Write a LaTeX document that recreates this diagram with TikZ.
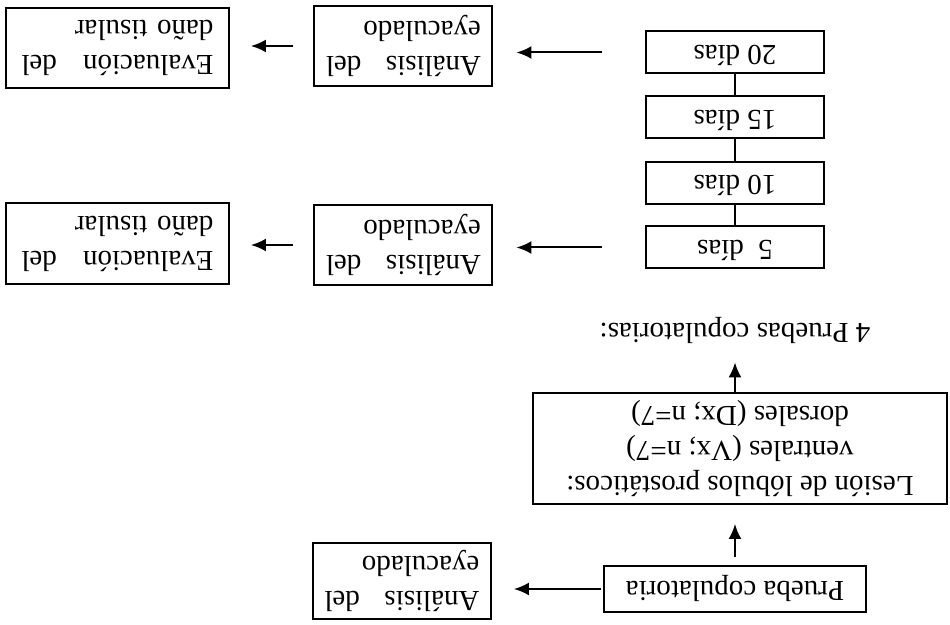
\documentclass[tikz,border=0pt]{standalone}
\usepackage{fontspec}
\setmainfont{Liberation Serif}
\usetikzlibrary{arrows.meta}
\tikzset{
  caja/.style={draw, line width=1pt, inner sep=0pt, align=center},
  una/.style={caja, text height=10pt, text depth=3pt},
  dos/.style={draw, line width=1pt, inner ysep=0pt, align=left},
  flecha/.style={-{Latex[length=7.5pt,width=6.5pt]}, line width=1pt},
}

\begin{document}
\begin{tikzpicture}[x=0.5pt, y=0.5pt, font=\fontsize{14.5}{17.5}\selectfont]
\begin{scope}[rotate=180, transform shape]
  \useasboundingbox (0,0) rectangle (950,625);
  % primera prueba
  \node[una, minimum width=131pt, minimum height=23pt] (Prueba) at (215,589) {Prueba copulatoria};
  \node[dos, text width=77.5pt, inner xsep=5.75pt, minimum height=38pt] (Anal1) at (548,581) {Análisis\hfill del\\eyaculado};
  \node[caja, minimum width=207pt, minimum height=55.5pt] (Lesion) at (210,448.5)
    {Lesión de lóbulos prostáticos:\\ventrales (Vx; n=7)\\dorsales (Dx; n=7)};
  \node[inner sep=0pt, text height=10pt, text depth=3pt, anchor=base] (Pruebas4) at (215,324) {4 Pruebas copulatorias:};
  % dias
  \node[una, minimum width=89pt, minimum height=21pt] (D5) at (215,247.5) {5\enspace días};
  \node[una, minimum width=89pt, minimum height=21pt] (D10) at (215,183) {10 días};
  \node[una, minimum width=89pt, minimum height=21pt] (D15) at (215,117.5) {15 días};
  \node[una, minimum width=89pt, minimum height=21pt] (D20) at (215,52.5) {20 días};
  % analisis y evaluacion
  \node[dos, text width=77.5pt, inner xsep=5.75pt, minimum height=40pt] (Anal5) at (546.5,245) {Análisis\hfill del\\eyaculado};
  \node[dos, text width=96pt, inner xsep=7.75pt, minimum height=40.5pt] (Eval5) at (832.5,243.5) {Evaluación\hfill del\\daño tisular};
  \node[dos, text width=77.5pt, inner xsep=5.75pt, minimum height=40pt] (Anal20) at (546.5,46) {Análisis\hfill del\\eyaculado};
  \node[dos, text width=96pt, inner xsep=7.75pt, minimum height=40pt] (Eval20) at (832.5,48) {Evaluación\hfill del\\daño tisular};

  \draw[flecha, shorten <=1pt, shorten >=11pt] (Prueba.east) -- (Prueba.east -| Anal1.west);
  \draw[flecha, shorten <=4pt, shorten >=9.5pt] (Prueba.south) -- (Prueba.south |- Lesion.north);
  \draw[flecha, shorten >=9pt] (Pruebas4.north |- Lesion.south) -- (Pruebas4.north);
  \draw[line width=0.8pt] (D5) -- (D10) (D10) -- (D15) (D15) -- (D20);
  \draw[flecha, shorten <=21.5pt, shorten >=11.5pt] (D5.east) -- (D5.east -| Anal5.west);
  \draw[flecha, shorten <=10pt, shorten >=10.5pt] (Anal5.east) -- (Anal5.east -| Eval5.west);
  \draw[flecha, shorten <=21.5pt, shorten >=11.5pt] (D20.east) -- (D20.east -| Anal20.west);
  \draw[flecha, shorten <=10pt, shorten >=10.5pt] (Anal20.east) -- (Anal20.east -| Eval20.west);
\end{scope}
\end{tikzpicture}
\end{document}
